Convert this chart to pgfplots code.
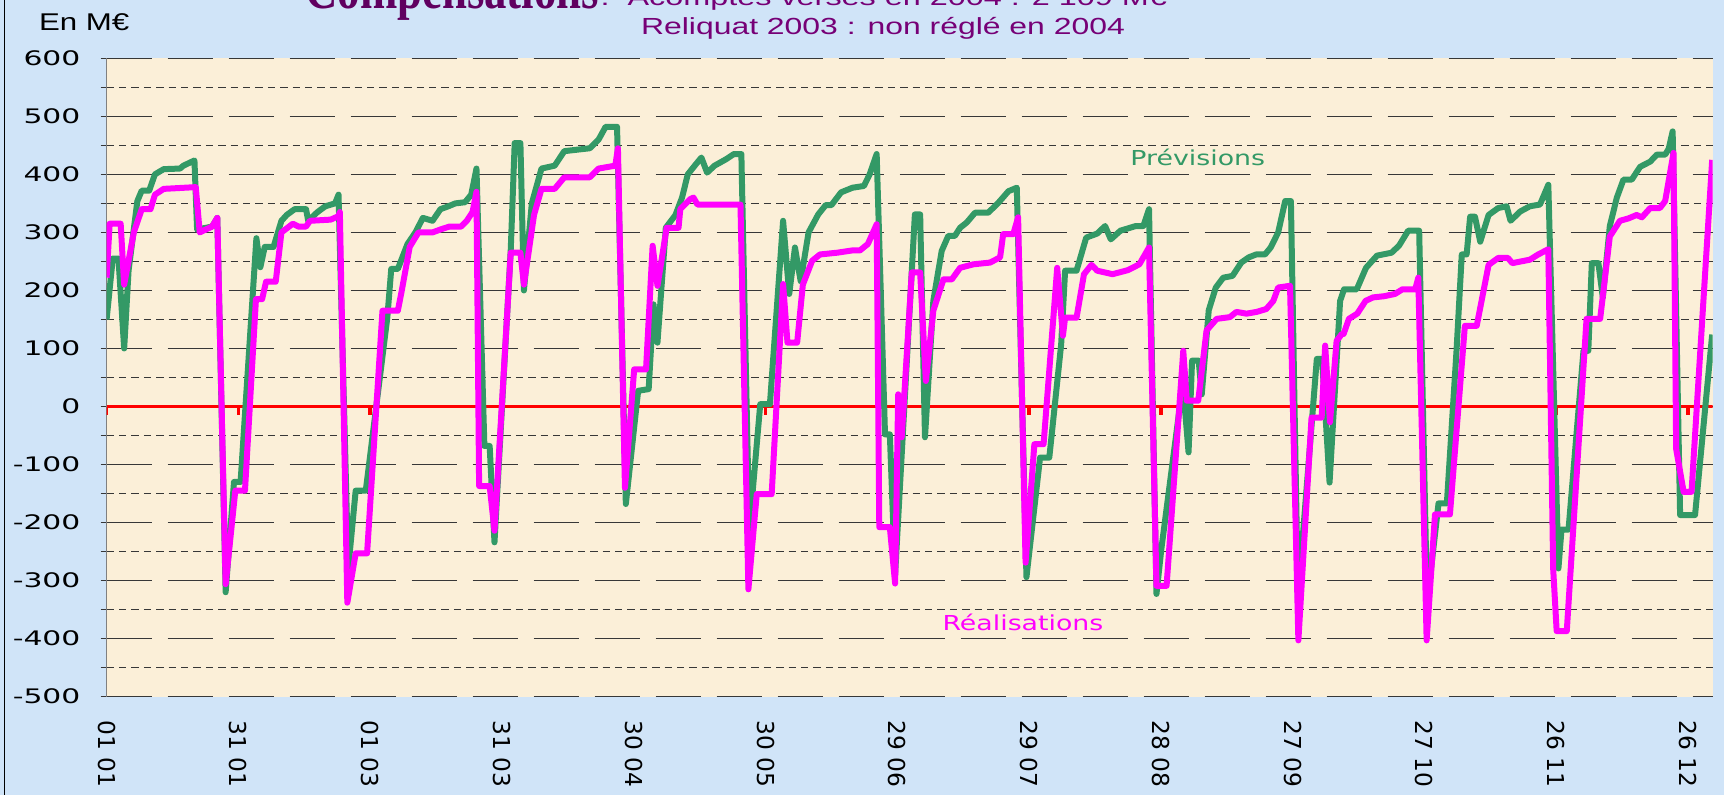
\documentclass[border=0pt]{standalone}
\usepackage{fontspec}
\usepackage{pgfplots}
\pgfplotsset{compat=1.18}
\newfontfamily\dv{DejaVu Sans}
\newfontfamily\lib{Liberation Sans}
\newfontfamily\libs{Liberation Serif}
\definecolor{bgblue}{RGB}{208,228,248}
\definecolor{cream}{RGB}{251,239,216}
\definecolor{prevgreen}{RGB}{51,153,102}
\definecolor{realmag}{RGB}{255,0,255}
\definecolor{titlepurple}{RGB}{118,0,118}
\definecolor{darkpurple}{RGB}{96,0,96}
\definecolor{gridc}{RGB}{55,55,55}
\begin{document}
\begin{tikzpicture}
\path[use as bounding box] (0,0) rectangle (862pt,397.5pt);
\clip (0,0) rectangle (862pt,397.5pt);
\fill[bgblue] (0,0) rectangle (862pt,397.5pt);
\draw[black, line width=0.8pt] (2.2pt,0) -- (2.2pt,397.5pt);
\begin{axis}[
  at={(53.3pt,49.15pt)}, anchor=south west,
  scale only axis, width=803pt, height=319.2pt,
  xmin=0, xmax=365.6, ymin=-500, ymax=600,
  axis background/.style={fill=cream},
  axis lines=left,
  x axis line style={draw=none},
  y axis line style={draw=gray, line width=0.75pt, -},
  xtick={0,30,60,90,120,150,180,210,240,270,300,330,360},
  xticklabels={01 01,31 01,01 03,31 03,30 04,30 05,29 06,29 07,28 08,27 09,27 10,26 11,26 12},
  x tick style={draw=none},
  xticklabel style={font=\dv\fontsize{11.65pt}{12pt}\selectfont, rotate=-90, anchor=west, inner sep=0pt},
  xticklabel shift=8.6pt,
  ytick={-500,-400,-300,-200,-100,0,100,200,300,400,500,600},
  yticklabels={-500,-400,-300,-200,-100,0,100,200,300,400,500,600},
  minor y tick num=1,
  tick align=outside,
  major tick length=3pt, minor tick length=3pt,
  y tick style={draw=gridc, line width=0.65pt},
  minor y tick style={draw=gridc, line width=0.5pt},
  yticklabel style={font=\dv\fontsize{10pt}{12pt}\selectfont, xscale=1.49, anchor=east, inner sep=0pt},
  yticklabel shift=9.8pt,
  ymajorgrids, yminorgrids,
  major grid style={draw=gridc, line width=0.65pt, dash pattern=on 22.5pt off 8pt},
  minor grid style={draw=gridc, line width=0.5pt, dash pattern=on 3.7pt off 2.5pt},
]
\addplot[red, line width=1.8pt, forget plot] coordinates {(0,0) (365.6,0)};
\pgfplotsinvokeforeach{0,30,60,90,120,150,180,210,240,270,300,330,360}{
  \addplot[red, line width=1.8pt, forget plot] coordinates {(#1,0) (#1,-14)};
}
% Previsions (green)
\addplot[prevgreen, line width=3pt, line join=round] coordinates {
(0,150) (1.4,255) (2.7,255) (4,100) (5,234) (7,354) (8,372) (9.7,372) (11,400) (13,409)
(16.7,410) (17.5,415) (20,424) (20.6,305) (24,310) (25.2,325) (27.1,-320) (29,-130) (30.5,-130)
(34.1,290) (35,240) (36,275) (38,275) (39.8,320) (41,330) (42.8,340) (45.4,340) (45.9,320)
(48,335) (49.8,345) (52,350) (52.8,365) (55,-280) (56.7,-145) (59,-145) (63.9,153) (64.8,237)
(66.3,237) (68.5,280) (70.3,300) (72,325) (74.2,320) (76,340) (77.8,345) (79.4,350) (81.6,352)
(83,365) (84.2,410) (86,-68) (87.2,-68) (88.3,-234) (92,270) (92.9,454) (94.2,454) (95,200)
(96.8,350) (99,410) (102,415) (104.2,440) (110,445) (112,460) (113.6,482) (116.2,482)
(118.2,-168) (121,27) (123.4,30) (124.5,176) (125.4,110) (127.3,308) (129.5,330) (131,360)
(132.3,400) (134.1,417) (135.4,429) (136.7,403) (138.4,415) (141,426) (142.8,435) (144.5,435)
(146.3,-214) (148.8,4) (151,4) (154,320) (155.4,194) (156.7,274) (158,216) (159.8,300)
(162,331) (163.7,347) (165,347) (167.2,369) (169.8,377) (172.4,380) (173.7,400) (175.3,435)
(177.2,-48) (178.3,-48) (179.5,-290) (184,331) (185.2,331) (186.3,-53) (188.2,182) (190.1,268)
(191.6,294) (193.1,294) (194.3,308) (195.8,317) (197.7,334) (200.7,334) (203,351) (205.3,371)
(207.2,377) (209.4,-294) (212.5,-88) (214.6,-88) (217.3,107) (218.2,234) (220.8,234) (223,291)
(225.5,298) (227.3,311) (228.6,288) (230.8,303) (234.3,311) (236,311) (237.3,340) (239,-323)
(240.1,-246) (245,40) (246.3,-79) (247.1,79) (248.6,79) (249.3,21) (250.9,166) (252.5,205)
(254.2,222) (256.3,225) (258.3,248) (260,257) (261.7,262) (263.7,262) (265,274) (266.7,300)
(268.3,354) (269.6,354) (271.2,-330) (275.5,82) (276.7,82) (278.4,-131) (280.8,182) (281.7,202)
(284.6,202) (286.7,239) (289.2,260) (292.5,265) (294.2,277) (296.3,303) (298.8,303) (300.6,-340)
(303.2,-167) (305.1,-167) (307.3,96) (308.5,262) (309.6,262) (310.4,327) (311.5,327) (312.7,284)
(314.6,330) (316.8,342) (318.7,345) (319.6,320) (321.8,336) (324,345) (326.3,348) (328.2,382)
(330.5,-279) (331.2,-212) (332.8,-212) (336.2,96) (337.3,96) (338.1,247) (339.6,247) (340.6,188)
(342.2,311) (343.8,360) (345.3,391) (347.2,391) (349.1,413) (351.4,422) (352.9,434) (354.8,434)
(355.6,444) (356.5,474) (358.2,-187) (361.6,-187) (365.5,124)
};
% Realisations (magenta)
\addplot[realmag, line width=3pt, line join=round] coordinates {
(0,222) (0.7,315) (3.2,315) (4,210) (6.2,300) (8,340) (10,340) (11,365) (13,375) (20.3,378)
(21.2,300) (24,310) (25.2,325) (27.1,-306) (29.3,-145) (31.5,-145) (34,185) (35.4,185) (36.3,215)
(38.5,215) (39.8,300) (42.4,315) (43.7,310) (45.4,310) (46.3,320) (51,322) (52.8,328) (53.1,335)
(54.8,-338) (56.7,-253) (59.3,-253) (62.8,165) (66.3,165) (67.2,200) (69,275) (71,300) (74.2,300)
(76,305) (78,310) (80.7,310) (82,320) (83.3,335) (84.2,370) (84.8,-137) (87.2,-137) (88.3,-214)
(92,265) (94.2,265) (95,210) (97.3,330) (99,375) (102,375) (104.2,395) (110,395) (112,410)
(115.8,415) (116.4,445) (118,-140) (120.1,64) (122.8,64) (124.3,277) (125.4,208) (127.5,308)
(130.2,308) (130.6,340) (132.8,357) (133.6,360) (134.5,348) (144.3,348) (146.1,-315) (148,-151)
(151.4,-151) (154,211) (155,110) (157.2,110) (158.5,210) (160.6,251) (162.4,262) (166.3,265)
(169.8,269) (171.5,269) (173.3,280) (175.3,314) (175.9,-208) (178.3,-208) (179.5,-305) (180.2,21)
(181,-53) (183.3,231) (185.2,231) (186.5,44) (188.2,165) (190.5,219) (192.4,219) (194.3,239)
(197.3,245) (201.1,248) (203.4,257) (204.1,297) (206.4,297) (207.5,326) (209.2,-269) (211.2,-65)
(213.3,-65) (216.4,239) (217.7,122) (218.2,153) (220.8,153) (222.5,228) (224.2,244) (225.5,234)
(229,228) (232.5,235) (235.1,245) (237.3,274) (239,-309) (241.3,-309) (245.1,96) (245.9,10)
(248.5,10) (250.4,131) (252.7,151) (255.7,154) (257.2,163) (259.5,160) (261.8,163) (264,168)
(265.6,182) (266.7,205) (269.4,208) (271.3,-403) (274.3,-19) (276.6,-19) (277.4,105) (278.5,-27)
(280,113) (281.2,125) (281.6,125) (282.8,151) (284.7,160) (286.6,182) (288.3,188) (290.8,190)
(293.3,194) (295,202) (297.9,202) (298.6,222) (300.5,-403) (302.4,-186) (305.8,-186) (309.2,139)
(311.9,139) (314.6,244) (316.8,256) (319,256) (320,247) (324,253) (325.9,262) (328.2,271)
(329.3,-279) (330.1,-387) (332.4,-387) (336.9,151) (340,151) (342.2,293) (344.5,320) (346.4,324)
(348.3,330) (349.5,326) (351.4,342) (353.6,342) (354.8,354) (356.7,437) (357.3,-73) (359,-147)
(360.8,-147) (365.5,425)
};
\node[font=\dv\fontsize{10.3pt}{12pt}\selectfont, text=prevgreen, xscale=1.3, anchor=base, inner sep=0pt] at (axis cs:248.4,416) {Prévisions};
\node[font=\dv\fontsize{10.3pt}{12pt}\selectfont, text=realmag, xscale=1.3, anchor=base, inner sep=0pt] at (axis cs:208.6,-386) {Réalisations};
\end{axis}
\node[anchor=base west, inner sep=0pt, font=\lib\fontsize{12.1pt}{14pt}\selectfont, xscale=1.29] at (19.25pt,382.2pt) {En M€};
\node[anchor=base, inner sep=0pt, font=\lib\fontsize{11.65pt}{14pt}\selectfont, xscale=1.37, text=titlepurple] at (441.5pt,380pt) {Reliquat 2003 : non réglé en 2004};
\node[anchor=base west, inner sep=0pt, text=darkpurple, font=\libs\bfseries\fontsize{28pt}{30pt}\selectfont, xscale=0.8] at (152.5pt,393pt) {Compensations};
\node[anchor=base west, inner sep=0pt, text=titlepurple, font=\lib\fontsize{11.65pt}{14pt}\selectfont, xscale=1.39] at (300pt,394.5pt) {:\ \ Acomptes versés en 2004 : 2 109 M€};
\end{tikzpicture}
\end{document}
